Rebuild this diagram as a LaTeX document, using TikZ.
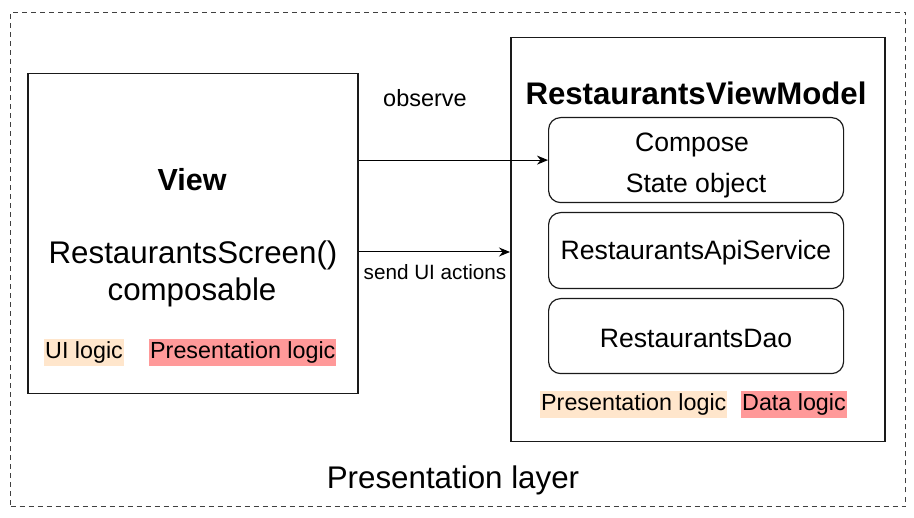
\documentclass[tikz,border=0pt]{standalone}
\usepackage{fontspec}
\setmainfont{Liberation Sans}
\usetikzlibrary{arrows.meta}
\definecolor{peach}{HTML}{FFE6CC}
\definecolor{pinkred}{HTML}{FF9999}
\definecolor{boxline}{HTML}{1A1A1A}
\tikzset{
  box/.style={draw=boxline, line width=1.5pt, anchor=north west, inner sep=0pt},
  rbox/.style={box, rounded corners=12pt, line width=1.2pt},
  lbl/.style={inner sep=0pt, anchor=center},
  hl/.style={inner xsep=1pt, inner ysep=2.5pt, text height=17pt, text depth=5pt, font=\fontsize{23.3}{25}\selectfont},
  arr/.style={line width=1pt, -{Stealth[length=11pt,width=9pt]}}
}
\begin{document}
\begin{tikzpicture}[x=1pt,y=-1pt]
\useasboundingbox (0,0) rectangle (914,518);
\node[box, draw=black!75, line width=1pt, dash pattern=on 5pt off 4pt, minimum width=895pt, minimum height=494pt] (layer) at (10,12) {};
\node[box, minimum width=330pt, minimum height=320pt] (view) at (27,73) {};
\node[box, minimum width=374pt, minimum height=404pt] (vm) at (510,37) {};
\node[rbox, minimum width=295pt, minimum height=85pt] (compose) at (548,117) {};
\node[rbox, minimum width=295pt, minimum height=76pt] (api) at (548,212) {};
\node[rbox, minimum width=295pt, minimum height=75pt] (dao) at (548,298) {};

\node[lbl, font=\bfseries\fontsize{30.5}{32}\selectfont] (viewt) at (192,180) {View};
\node[lbl, font=\fontsize{31.3}{33}\selectfont] (screen) at (193,255) {RestaurantsScreen()};
\node[lbl, font=\fontsize{31.3}{33}\selectfont] (compo) at (192,292) {composable};
\node[hl, fill=peach, anchor=west] (uil) at (44,352.5) {UI logic};
\node[hl, fill=pinkred, anchor=west] (pl1) at (149,352.5) {Presentation logic};

\node[lbl, font=\bfseries\fontsize{31.2}{33}\selectfont] (vmt) at (696,93) {RestaurantsViewModel};
\node[lbl, font=\fontsize{26.6}{28}\selectfont] (c1) at (692,145) {Compose};
\node[lbl, font=\fontsize{26.6}{28}\selectfont] (c2) at (696,186) {State object};
\node[lbl, font=\fontsize{26.6}{28}\selectfont] (apit) at (696,253) {RestaurantsApiService};
\node[lbl, font=\fontsize{26.6}{28}\selectfont] (daot) at (696,338) {RestaurantsDao};
\node[hl, fill=peach, anchor=west] (pl2) at (540,405) {Presentation logic};
\node[hl, fill=pinkred, anchor=west] (dl) at (741,405) {Data logic};

\node[lbl, font=\fontsize{23.5}{25}\selectfont] (obs) at (425,98) {observe};
\node[lbl, font=\fontsize{20.7}{22}\selectfont] (send) at (435,272) {send UI actions};
\node[lbl, font=\fontsize{31.3}{33}\selectfont] (layert) at (453,480) {Presentation layer};

\draw[arr] (view.east |- compose.west) -- (compose.west);
\coordinate (a2) at (view.east |- 0,252);
\draw[arr] (a2) -- (vm.west |- a2);
\end{tikzpicture}
\end{document}
